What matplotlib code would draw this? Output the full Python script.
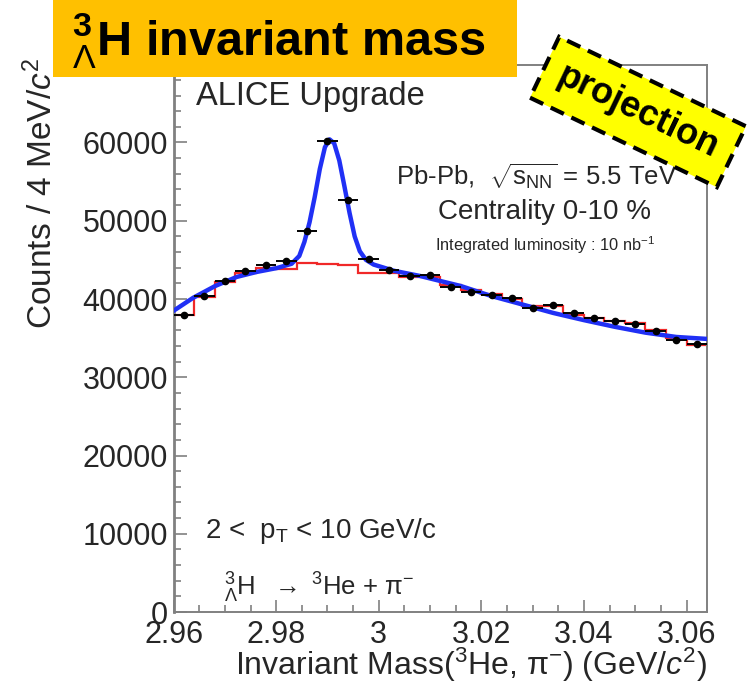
import matplotlib
matplotlib.use("Agg")
import matplotlib.pyplot as plt
from matplotlib.patches import Rectangle
from matplotlib.ticker import MultipleLocator
import numpy as np

plt.rcParams["font.family"] = ["Liberation Sans", "DejaVu Sans"]
plt.rcParams["mathtext.fontset"] = "custom"
plt.rcParams["mathtext.rm"] = "Liberation Sans"
plt.rcParams["mathtext.it"] = "Liberation Sans:italic"
plt.rcParams["mathtext.bf"] = "Liberation Sans:bold"

# 4 MeV/c^2 bins from 2.960 GeV/c^2
BIN_LO = 2.960
BIN_W = 0.004
N_BINS = 26

# signal + background counts per bin
data_counts = [37950, 40370, 42300, 43550, 44300, 44880, 48630, 60250,
               52680, 45080, 43760, 42950, 43100, 41500, 40950, 40450,
               40100, 38900, 39200, 38250, 37580, 37200, 36770, 35870,
               34720, 34230]

# combinatorial background (mixed events)
bkg_counts = [38000, 40280, 42170, 43370, 43930, 43800, 44570, 44440,
              44310, 43300, 43300, 42820, 42820, 41760, 41120, 40580,
              40050, 39150, 39090, 38000, 37580, 37160, 36940, 36080,
              35010, 34140]

# gaussian + polynomial fit
fit_mass = [2.9600, 2.9638, 2.9681, 2.9723, 2.9762, 2.9801, 2.9830, 2.9845,
            2.9855, 2.9865, 2.9875, 2.9885, 2.9895, 2.9904, 2.9913, 2.9923,
            2.9933, 2.9943, 2.9953, 2.9963, 2.9975, 2.9990, 3.0030, 3.0080,
            3.0120, 3.0160, 3.0220, 3.0280, 3.0340, 3.0400, 3.0460, 3.0520,
            3.0580, 3.0640]
fit_counts = [38500, 40150, 41660, 42820, 43460, 43950, 44500, 45500,
              47300, 49800, 53000, 56600, 59400, 60400, 59900, 57700,
              54400, 51000, 48000, 46100, 45000, 44400, 43600, 42950,
              42300, 41660, 40370, 39300, 38220, 37300, 36450, 35700,
              35150, 34900]

edges = BIN_LO + BIN_W * np.arange(N_BINS + 1)
centres = edges[:-1] + BIN_W / 2

TXT = "#262626"
FRAME = "#808080"

fig = plt.figure(figsize=(7.5, 6.91), dpi=100)
ax = fig.add_axes([0.2315, 0.1143, 0.7112, 0.7916])

ax.stairs(bkg_counts, edges, baseline=None, color="#f02828", linewidth=1.6, zorder=2)
ax.plot(fit_mass, fit_counts, color="#2030f5", linewidth=3.2, zorder=3)
ax.errorbar(centres, data_counts, xerr=BIN_W / 2, yerr=np.sqrt(data_counts),
            fmt="o", ms=4.5, color="black", elinewidth=1.4, capsize=0, zorder=4)

ax.set_xlim(edges[0], edges[-1])
ax.set_ylim(0, 69900)
ax.xaxis.set_major_locator(MultipleLocator(0.02))
ax.xaxis.set_minor_locator(MultipleLocator(0.005))
ax.yaxis.set_major_locator(MultipleLocator(10000))
ax.yaxis.set_minor_locator(MultipleLocator(2000))
ax.xaxis.set_major_formatter(lambda v, p: f"{v:g}")

ax.tick_params(which="both", direction="in", top=False, right=False,
               color=FRAME, width=1.2, labelcolor=TXT, labelsize=22)
ax.tick_params(which="major", length=9)
ax.tick_params(which="minor", length=5)
ax.tick_params(axis="y", pad=4)
ax.tick_params(axis="x", pad=6)
for side, sp in ax.spines.items():
    sp.set_color(FRAME)
    sp.set_linewidth(2.0 if side == "left" else 1.4)

# axis titles, right/top aligned as in ROOT
fig.text(42 / 750, 1 - 58 / 691, "Counts / 4 MeV/$c^{2}$", rotation=90,
         ha="center", va="top", fontsize=24, color=TXT)
fig.text(707 / 750, 1 - 665 / 691,
         r"Invariant Mass($^{3}$He, π$^{-}$) (GeV/$c^{2}$)",
         ha="right", va="center", fontsize=23, color=TXT)

# labels inside the frame
ax.text(196 / 750, 1 - 97 / 691, "ALICE Upgrade", transform=fig.transFigure,
        ha="left", va="center", fontsize=23.5, color=TXT)
ax.text(537 / 750, 1 - 177 / 691,
        r"Pb-Pb,  $\sqrt{\mathrm{s}_{\mathrm{NN}}}$ = 5.5 TeV",
        transform=fig.transFigure, ha="center", va="center", fontsize=18.5, color=TXT)
ax.text(545 / 750, 1 - 212 / 691, "Centrality 0-10 %", transform=fig.transFigure,
        ha="center", va="center", fontsize=20, color=TXT)
ax.text(545 / 750, 1 - 245 / 691, r"Integrated luminosity : 10 nb$^{-1}$",
        transform=fig.transFigure, ha="center", va="center", fontsize=11.8, color=TXT)
ax.text(205 / 750, 1 - 531 / 691, r"2 <  p$_{\mathrm{T}}$ < 10 GeV/c",
        transform=fig.transFigure, ha="left", va="center", fontsize=20, color=TXT)
ax.text(224 / 750, 1 - 588 / 691,
        r"${}^{3}_{\Lambda}$H  $\rightarrow$ $^{3}$He + π$^{-}$",
        transform=fig.transFigure, ha="left", va="center", fontsize=18.5, color=TXT)

# orange title banner
fig.add_artist(Rectangle((53 / 750, 1 - 77 / 691), (517 - 53) / 750, 77 / 691,
                         transform=fig.transFigure, facecolor="#ffc000",
                         edgecolor="none", zorder=10))
fig.text(72 / 750, 1 - 40 / 691, r"${}^{\mathbf{3}}_{\Lambda}$H invariant mass",
         ha="left", va="center", fontsize=35, fontweight="bold", color="black",
         zorder=11)

# tilted "projection" stamp
fig.text(638 / 750, 1 - 112 / 691, "projection", rotation=-25.6,
         ha="center", va="center", fontsize=26, fontweight="bold", color="black",
         zorder=12,
         bbox=dict(boxstyle="square,pad=0.45", facecolor="#ffff00",
                   edgecolor="black", linewidth=3, linestyle=(0, (3.5, 2))))

fig.savefig("out.png", dpi=100)
